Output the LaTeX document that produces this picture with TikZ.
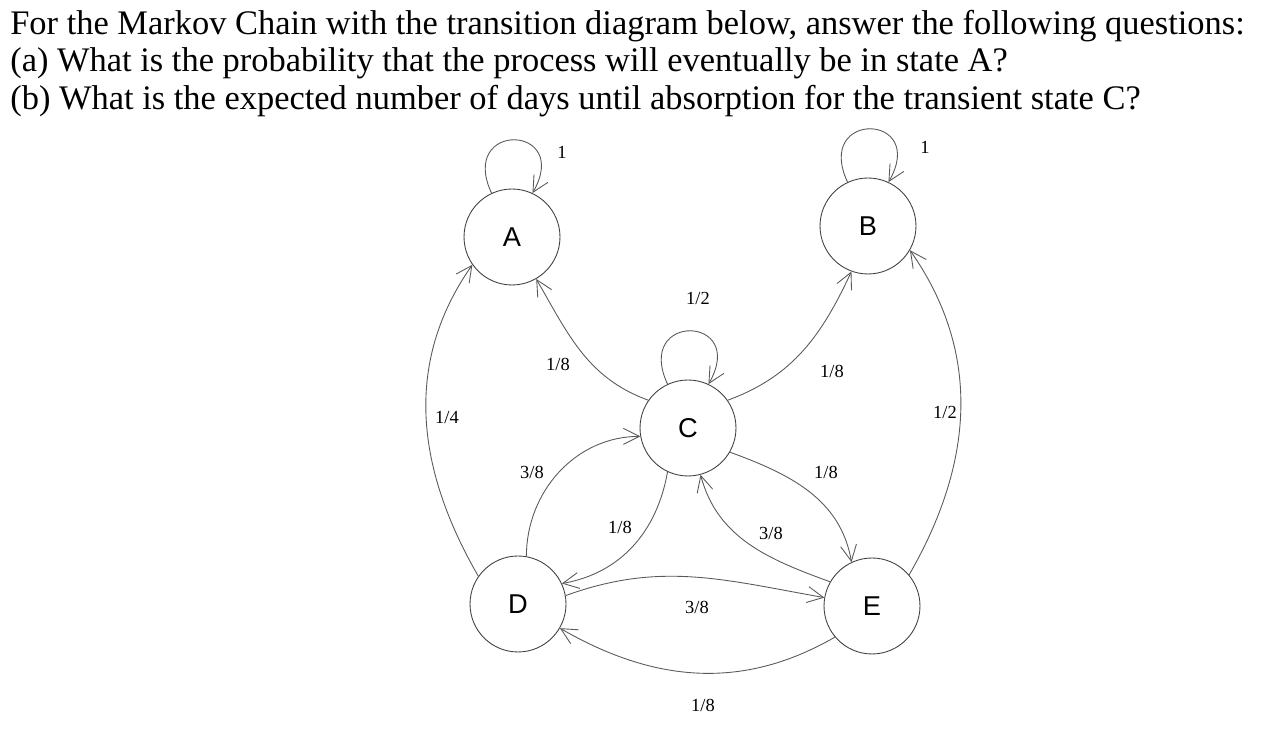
\documentclass[tikz,border=0pt]{standalone}
\usepackage{fontspec}
\setmainfont{Liberation Serif}
\newfontfamily\arialf{Liberation Sans}
\usetikzlibrary{arrows.meta}
\begin{document}
\begin{tikzpicture}[x=0.02cm,y=0.02cm,
  st/.style={circle,draw=black!75,line width=0.5pt,minimum size=1.92cm,inner sep=0pt,font=\arialf\fontsize{15.5}{18}\selectfont},
  ed/.style={draw=black!65,line width=0.5pt,-{Straight Barb[length=3.2mm,width=3.2mm]}},
  lb/.style={font=\fontsize{10.5}{12}\selectfont},
  qt/.style={anchor=base west,inner sep=0pt,font=\fontsize{19.6}{22}\selectfont}]
\useasboundingbox (0,0) rectangle (1272,747);
\node[qt] (q1) at (10,712) {For the Markov Chain with the transition diagram below, answer the following questions:};
\node[qt] (q2) at (10,675) {(a) What is the probability that the process will eventually be in state A?};
\node[qt] (q3) at (10,637) {(b) What is the expected number of days until absorption for the transient state C?};
\node[st] (A) at (512,510) {A};
\node[st] (B) at (868,521) {B};
\node[st] (C) at (688,319) {C};
\node[st] (D) at (518,143) {D};
\node[st] (E) at (872,141) {E};
\draw[ed] (A.115) .. controls +(115:80) and +(60:80) .. (A.65);
\draw[ed] (B.115) .. controls +(115:80) and +(60:80) .. (B.65);
\draw[ed] (C.115) .. controls +(115:80) and +(60:80) .. (C.65);
\node[lb] (lA) at (562,595) {1};
\node[lb] (lB) at (925,600) {1};
\node[lb] (lC) at (698,449) {1/2};
\draw[ed] (C.145) to[out=160,in=-60] (A.-60);
\draw[ed] (C.35) to[out=20,in=-115] (B.-110);
\draw[ed] (D.145) to[out=120,in=-125] (A.-145);
\draw[ed] (E.40) to[out=60,in=-55] (B.-30);
\draw[ed] (D.80) to[out=90,in=180] (C.190);
\draw[ed] (C.-115) to[out=-100,in=10] (D.25);
\draw[ed] (C.-30) to[out=-20,in=100] (E.115);
\draw[ed] (E.150) to[out=160,in=-75] (C.-75);
\draw[ed] (D.10) to[out=20,in=170] (E.170);
\draw[ed] (E.-140) to[out=-150,in=-30] (D.-30);
\node[lb] (l1) at (558,383) {1/8};
\node[lb] (l2) at (832,376) {1/8};
\node[lb] (l3) at (447,329) {1/4};
\node[lb] (l4) at (945,335) {1/2};
\node[lb] (l5) at (532,275) {3/8};
\node[lb] (l6) at (620,220) {1/8};
\node[lb] (l7) at (826,275) {1/8};
\node[lb] (l8) at (771,214) {3/8};
\node[lb] (l9) at (697,140) {3/8};
\node[lb] (l10) at (703,42) {1/8};
\end{tikzpicture}
\end{document}
